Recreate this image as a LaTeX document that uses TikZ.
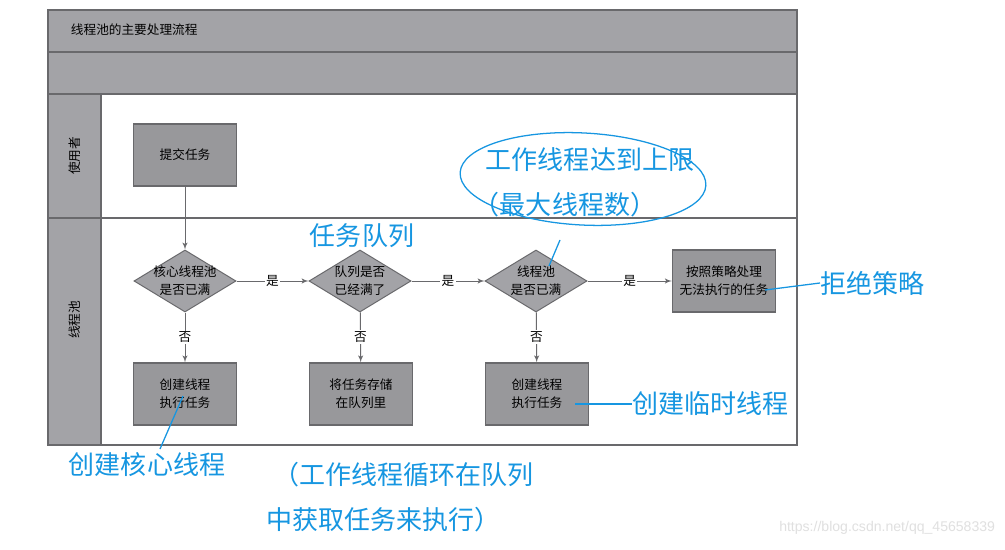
\documentclass[tikz,border=0pt]{standalone}
\usepackage{fontspec}
\setmainfont{Liberation Sans}
\newfontfamily\cjk{Noto Sans CJK SC}
\usetikzlibrary{arrows,shapes.geometric}
\definecolor{lanegray}{RGB}{163,163,167}
\definecolor{boxgray}{RGB}{152,152,155}
\definecolor{edgegray}{RGB}{105,105,108}
\definecolor{penblue}{RGB}{22,150,225}
\tikzstyle{lane}=[fill=lanegray,draw=edgegray,line width=0.9pt]
\tikzstyle{task}=[rectangle,fill=boxgray,draw=edgegray,line width=0.9pt,minimum width=2.58cm,minimum height=1.55cm,align=center,font=\cjk\fontsize{9}{13}\selectfont]
\tikzstyle{check}=[diamond,aspect=1.65,inner sep=-3pt,fill=lanegray,draw=edgegray,line width=0.7pt,minimum width=2.55cm,minimum height=1.55cm,align=center,font=\cjk\fontsize{9}{13}\selectfont]
\tikzstyle{line}=[draw=edgegray,line width=0.7pt,-latex']
\tikzstyle{answer}=[fill=white,inner sep=1pt,font=\cjk\fontsize{9}{11}\selectfont]
\tikzstyle{note}=[text=penblue,inner sep=0pt,font=\cjk\fontsize{18.5}{22}\selectfont]
\tikzstyle{pen}=[draw=penblue,line width=0.9pt]

\begin{document}
\begin{tikzpicture}[x=0.025cm,y=-0.025cm]
  \useasboundingbox[fill=white] (0,0) rectangle (1005,550);

  % swimlane frame
  \draw[lane] (48,10) rectangle (797,52);
  \draw[lane] (48,52) rectangle (797,94);
  \draw[draw=edgegray,line width=0.9pt] (48,94) rectangle (797,445);
  \draw[lane] (48,94) rectangle (101,445);
  \draw[draw=edgegray,line width=0.9pt] (48,218) -- (797,218);
  \node[anchor=west,font=\cjk\fontsize{9}{11}\selectfont] (title) at (66,30) {线程池的主要处理流程};
  \node[rotate=90,font=\cjk\fontsize{9}{11}\selectfont] (userlane) at (75,156) {使用者};
  \node[rotate=90,font=\cjk\fontsize{9}{11}\selectfont] (poollane) at (75,320) {线程池};

  % flow
  \node[task] (submit) at (185,155) {提交任务};
  \node[check] (corefull) at (185,281) {核心线程池\\是否已满};
  \node[check] (queuefull) at (360,281) {队列是否\\已经满了};
  \node[check] (poolfull) at (536,281) {线程池\\是否已满};
  \node[task] (reject) at (724,281) {按照策略处理\\无法执行的任务};
  \node[task] (corework) at (185,394) {创建线程\\执行任务};
  \node[task] (store) at (361,394) {将任务存储\\在队列里};
  \node[task] (tempwork) at (537,394) {创建线程\\执行任务};

  \path[line] (submit) -- (corefull);
  \path[line] (corefull) -- node[answer] {是} (queuefull);
  \path[line] (queuefull) -- node[answer] {是} (poolfull);
  \path[line] (poolfull) -- node[answer] {是} (reject);
  \path[line] (corefull) -- node[answer] {否} (corework);
  \path[line] (queuefull) -- node[answer] {否} (store);
  \path[line] (poolfull) -- node[answer] {否} (tempwork);

  % hand written notes
  \node[note] (queuenote) at (362,236) {任务队列};
  \node[ellipse,pen,minimum width=6.15cm,minimum height=2.3cm,rotate=-3] (limitring) at (583,179) {};
  \node[note] (limitnote) at (590,160) {工作线程达到上限};
  \node[note] (maxnote) at (565,205) {（最大线程数）};
  \coordinate (limittail) at (560,240);
  \coordinate (limithead) at (549,266);
  \draw[pen] (limittail) -- (limithead);

  \node[note,anchor=west] (rejectnote) at (820,283) {拒绝策略};
  \coordinate (rejecttail) at (765,290);
  \draw[pen] (rejecttail) -- (rejectnote.west);

  \node[note,anchor=west] (tempnote) at (632,404) {创建临时线程};
  \coordinate (temptail) at (575,404);
  \draw[pen] (temptail) -- (tempnote.west);

  \node[note] (corenote) at (147,465) {创建核心线程};
  \coordinate (coretail) at (183,396);
  \coordinate (corehead) at (160,449);
  \draw[pen] (coretail) -- (corehead);

  \node[note,anchor=west] (loopnote) at (273,475) {（工作线程循环在队列};
  \node[note,anchor=west] (loopnote2) at (266,520) {中获取任务来执行）};

  \node[text=black!12,font=\fontsize{10}{12}\selectfont,anchor=east] (mark) at (1000,528) {https://blog.csdn.net/qq\_45658339};
\end{tikzpicture}
\end{document}
